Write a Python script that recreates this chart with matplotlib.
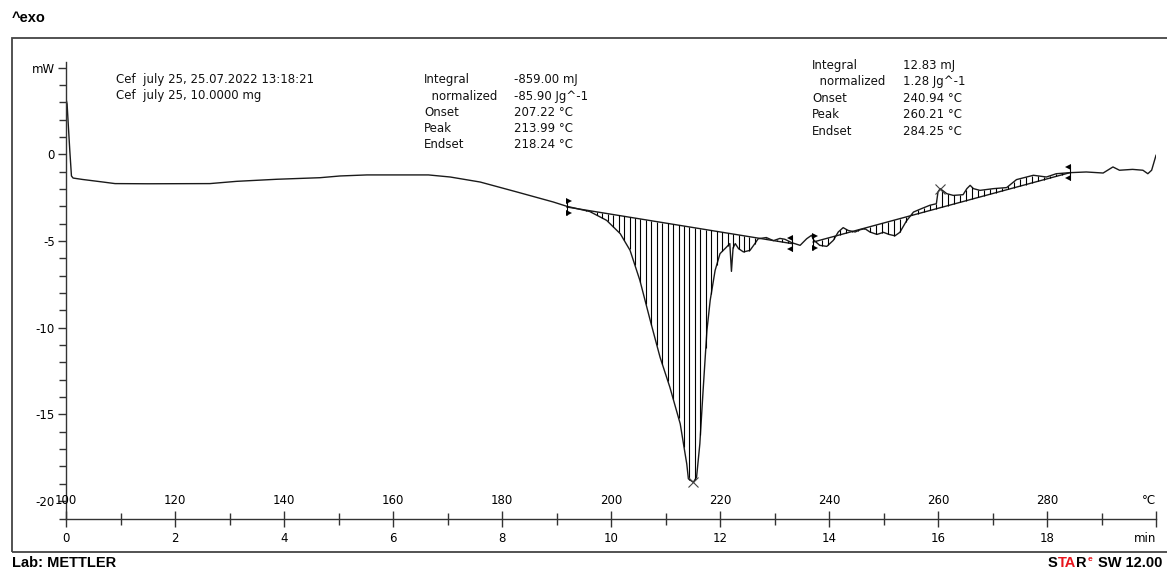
import numpy as np
import matplotlib
matplotlib.use("Agg")
import matplotlib.pyplot as plt
from matplotlib.transforms import blended_transform_factory, ScaledTranslation
from matplotlib.patches import Rectangle

W, H, DPI = 1167, 570, 100

# ---------------- data ----------------
time_min = [0.00, 0.02, 0.04, 0.07, 0.10, 0.13, 0.30, 0.68, 0.90, 1.50, 2.64, 3.13,
            3.87, 4.66, 5.03, 5.52, 6.65, 7.05, 7.60, 8.27, 8.94, 9.19, 9.61, 9.92,
            10.17, 10.35, 10.53, 10.72, 10.90, 11.08, 11.27, 11.39, 11.42, 11.51, 11.57,
            11.63, 11.69, 11.76, 11.82, 11.91, 12.00, 12.12, 12.18, 12.21, 12.24, 12.28,
            12.34, 12.43, 12.55, 12.64, 12.70, 12.85, 12.98, 13.10, 13.19, 13.32, 13.47,
            13.59, 13.68, 13.72, 13.83, 13.96, 14.08, 14.17, 14.26, 14.35, 14.48, 14.57,
            14.66, 14.75, 14.88, 15.00, 15.10, 15.21, 15.30, 15.42, 15.55, 15.70, 15.85,
            15.97, 16.00, 16.04, 16.16, 16.28, 16.46, 16.53, 16.59, 16.65, 16.77, 17.02,
            17.26, 17.44, 17.75, 17.99, 18.17, 18.42, 18.72, 19.03, 19.21, 19.33, 19.57,
            19.76, 19.85, 19.92, 20.00]
heat_mw = [3.2, 2.9, 1.8, 0.2, -1.25, -1.37, -1.45, -1.60, -1.69, -1.70, -1.69, -1.56,
           -1.44, -1.35, -1.25, -1.19, -1.19, -1.31, -1.60, -2.17, -2.75, -3.00, -3.30, -3.81,
           -4.58, -5.54, -7.27, -9.58, -11.70, -13.43, -15.54, -17.85, -18.71, -18.91, -18.62,
           -16.70, -13.62, -10.16, -8.42, -6.70, -5.73, -5.35, -5.15, -6.75, -5.40, -5.15,
           -5.44, -5.63, -5.54, -5.15, -4.87, -4.80, -4.98, -4.85, -4.90, -5.10, -5.25,
           -4.87, -4.67, -4.95, -5.25, -5.31, -4.96, -4.48, -4.23, -4.39, -4.48, -4.35,
           -4.29, -4.48, -4.62, -4.50, -4.62, -4.70, -4.50, -3.85, -3.33, -3.13, -2.94,
           -2.85, -2.17, -1.98, -2.27, -2.37, -2.33, -1.98, -1.79, -1.98, -2.08, -1.98,
           -1.92, -1.46, -1.21, -1.31, -1.12, -1.06, -1.02, -1.08, -0.73, -0.92, -0.87,
           -0.92, -1.12, -0.92, -0.06]

# integration limits (time, mW) and peaks
int1_start = (9.19, -3.04)
int1_end = (13.32, -5.15)
peak1 = (11.51, -18.91)
int2_start = (13.71, -5.06)
int2_end = (18.42, -1.06)
peak2 = (16.04, -1.98)

time_ticks = [0, 2, 4, 6, 8, 10, 12, 14, 16, 18, 20]
time_labels = ['0', '2', '4', '6', '8', '10', '12', '14', '16', '18', 'min']
temp_ticks = [0, 2, 4, 6, 8, 10, 12, 14, 16, 18, 20]
temp_labels = ['100', '120', '140', '160', '180', '200', '220', '240', '260', '280', '°C']
y_ticks = [-20, -15, -10, -5, 0, 5]
y_labels = ['-20', '-15', '-10', '-5', '0', 'mW']

header_lines = ['Cef  july 25, 25.07.2022 13:18:21', 'Cef  july 25, 10.0000 mg']
res_labels = ['Integral', '  normalized', 'Onset', 'Peak', 'Endset']
res1_values = ['-859.00 mJ', '-85.90 Jg^-1', '207.22 °C', '213.99 °C', '218.24 °C']
res2_values = ['12.83 mJ', '1.28 Jg^-1', '240.94 °C', '260.21 °C', '284.25 °C']

# ---------------- figure ----------------
plt.rcParams['font.family'] = ['DejaVu Sans']
fig = plt.figure(figsize=(W / DPI, H / DPI), dpi=DPI)
fig.patch.set_facecolor('white')

def fx(px):
    return px / W

def fy(py):
    return 1 - py / H

ax_bottom_px, ax_top_px = 518.5, 61.5
ax = fig.add_axes([fx(66), fy(ax_bottom_px), (1156 - 66) / W, (ax_bottom_px - ax_top_px) / H])
ax.set_xlim(0, 20)
ax.set_ylim(-21, 5.35)
ax.patch.set_visible(False)

for s in ('top', 'right'):
    ax.spines[s].set_visible(False)
for s in ('left', 'bottom'):
    ax.spines[s].set_color('#333333')
    ax.spines[s].set_linewidth(1.0)

line_col = '#1a1a1a'
t = np.array(time_min)
q = np.array(heat_mw)
ax.plot(t, q, color=line_col, lw=1.0, solid_joinstyle='round')

# integration areas with vertical hatching
def integrate_region(start, end, step):
    ax.plot([start[0], end[0]], [start[1], end[1]], color=line_col, lw=1.0)
    xs = np.arange(start[0] + step / 2, end[0], step)
    base = np.interp(xs, [start[0], end[0]], [start[1], end[1]])
    curve = np.interp(xs, t, q)
    ax.vlines(xs, base, curve, color='black', lw=0.8)

integrate_region(int1_start, int1_end, 0.1)
integrate_region(int2_start, int2_end, 0.11)

# limit markers
def limit_marker(pt, direction):
    ax.vlines(pt[0], pt[1] - 0.45, pt[1] + 0.45, color='black', lw=0.8)
    mk = '>' if direction == 'right' else '<'
    dx = 0.035 if direction == 'right' else -0.035
    ax.plot([pt[0] + dx] * 2, [pt[1] + 0.33, pt[1] - 0.33], ls='none', marker=mk,
            ms=3.8, color='black', mew=0)

limit_marker(int1_start, 'right')
limit_marker(int1_end, 'left')
limit_marker(int2_start, 'right')
limit_marker(int2_end, 'left')

for pk in (peak1, peak2):
    ax.plot([pk[0]], [pk[1]], marker='x', ms=7, mew=0.8, color='#444444', ls='none')

# ticks
ax.set_yticks(y_ticks)
ax.set_yticklabels(y_labels)
ax.set_yticks(np.arange(-21, 6, 1), minor=True)
ax.tick_params(axis='y', which='major', direction='out', length=6, width=1,
               color='#333333', labelsize=8.5, pad=2)
ax.tick_params(axis='y', which='minor', direction='out', length=5, width=1,
               color='#333333')

ax.set_xticks(time_ticks)
ax.set_xticklabels(time_labels)
ax.set_xticks(np.arange(1, 20, 2), minor=True)
ax.tick_params(axis='x', which='major', direction='inout', length=12, width=1,
               color='#333333', labelsize=8.5, pad=4)
ax.tick_params(axis='x', which='minor', direction='inout', length=9, width=1,
               color='#333333')
for lbl in ax.get_xticklabels():
    if lbl.get_text() == 'min':
        lbl.set_horizontalalignment('right')

trans_top = blended_transform_factory(ax.transData, ax.transAxes) + \
    ScaledTranslation(0, 18 / DPI, fig.dpi_scale_trans)
for xv, lab in zip(temp_ticks, temp_labels):
    ax.text(xv, 0, lab, transform=trans_top, ha='right' if lab == '°C' else 'center',
            va='center', fontsize=8.5, clip_on=False)

# frame
fig.add_artist(Rectangle((fx(12), fy(552)), 1.2, (552 - 38) / H, transform=fig.transFigure,
                         fill=False, ec='#444444', lw=1.3))

# texts
txt_kw = dict(fontsize=8.5, va='center', ha='left', color='#111111')
for i, s in enumerate(header_lines):
    fig.text(fx(116), fy(80 + 16 * i), s, **txt_kw)
for i, (a, b) in enumerate(zip(res_labels, res1_values)):
    fig.text(fx(424), fy(80 + 16.1 * i), a, **txt_kw)
    fig.text(fx(514), fy(80 + 16.1 * i), b, **txt_kw)
for i, (a, b) in enumerate(zip(res_labels, res2_values)):
    fig.text(fx(812), fy(65.5 + 16.4 * i), a, **txt_kw)
    fig.text(fx(903), fy(65.5 + 16.4 * i), b, **txt_kw)

bold_kw = dict(fontsize=10.5, fontweight='bold', family='Liberation Sans')
fig.text(fx(12), fy(18), '^exo', va='center', ha='left', **bold_kw)
fig.text(fx(12), fy(563), 'Lab: METTLER', va='center', ha='left', **bold_kw)

star_kw = dict(fontsize=10.5, fontweight='bold', family='Liberation Sans')
s1 = fig.text(fx(1048), fy(563), 'S', va='center', ha='left', color='black', **star_kw)
s2 = ax.annotate('TA', xy=(1, 0), xycoords=s1, va='bottom', ha='left', color='#e8141c',
                 annotation_clip=False, **star_kw)
s3 = ax.annotate('R', xy=(1, 0), xycoords=s2, va='bottom', ha='left', color='black',
                 annotation_clip=False, **star_kw)
s4 = ax.annotate('e', xy=(1.05, 1.0), xycoords=s3, va='top', ha='left', color='#e8141c',
                 annotation_clip=False, fontsize=6, fontweight='bold', family='Liberation Sans')
ax.annotate('SW 12.00', xy=(1, 0), xycoords=s3, xytext=(8, 0), textcoords='offset points',
            va='bottom', ha='left', color='black', annotation_clip=False, **star_kw)

fig.savefig('out.png', dpi=DPI)
